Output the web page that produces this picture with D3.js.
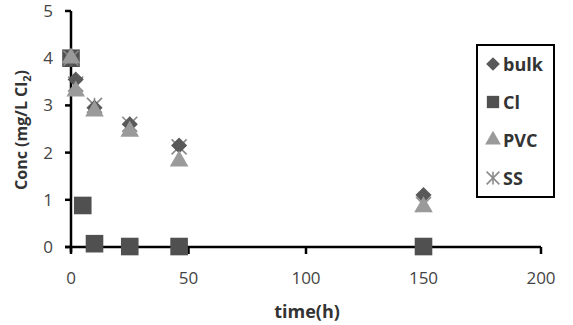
<!DOCTYPE html>
<html>
<head>
<meta charset="utf-8">
<script src="https://cdn.jsdelivr.net/npm/d3@7"></script>
<style>
  body { margin: 0; background: #fff; }
  text { font-family: "Open Sans", "Liberation Sans", sans-serif; }
</style>
</head>
<body>
<svg width="573" height="325"></svg>
<script>
var bulkTime = [0, 2, 10, 25, 46, 150],
    bulkConc = [4.0, 3.55, 2.95, 2.6, 2.15, 1.1],
    ciTime = [0, 5, 10, 25, 46, 150],
    ciConc = [4.0, 0.88, 0.07, 0.01, 0.01, 0.01],
    pvcTime = [0, 2, 10, 25, 46, 150],
    pvcConc = [4.0, 3.3, 2.88, 2.45, 1.82, 0.85],
    ssTime = [0, 2, 10, 25, 46, 150],
    ssConc = [4.0, 3.45, 3.0, 2.6, 2.12, 0.9],
    xTicks = [0, 50, 100, 150, 200],
    yTicks = [0, 1, 2, 3, 4, 5],
    seriesNames = ["bulk", "Cl", "PVC", "SS"];

var svg = d3.select("svg"),
    x = d3.scaleLinear().domain([0, 200]).range([71, 541]),
    y = d3.scaleLinear().domain([0, 5]).range([247, 11]);

var series = [
  {name: "bulk", t: bulkTime, c: bulkConc, sym: "diamond", size: 130, color: "#595959"},
  {name: "Cl", t: ciTime, c: ciConc, sym: d3.symbolSquare, size: 310, color: "#505050"},
  {name: "PVC", t: pvcTime, c: pvcConc, sym: d3.symbolTriangle, size: 150, color: "#9a9a9a"},
  {name: "SS", t: ssTime, c: ssConc, sym: "star", size: 7.5, color: "#8a8a8a"}
];

function drawMarker(g, s, cx, cy, scale) {
  scale = scale || 1;
  var tr = "translate(" + cx + "," + cy + ")";
  if (s.sym === "star") {
    var r = s.size * scale;
    var p = g.append("g").attr("transform", tr)
      .attr("stroke", s.color).attr("stroke-width", 1.6);
    p.append("line").attr("x1", -r).attr("y1", -r).attr("x2", r).attr("y2", r);
    p.append("line").attr("x1", -r).attr("y1", r).attr("x2", r).attr("y2", -r);
    p.append("line").attr("x1", 0).attr("y1", -r).attr("x2", 0).attr("y2", r);
  } else if (s.sym === "diamond") {
    g.append("path")
      .attr("transform", tr + " rotate(45)")
      .attr("d", d3.symbol().type(d3.symbolSquare).size(s.size * scale * scale)())
      .attr("fill", s.color);
  } else {
    g.append("path")
      .attr("transform", tr)
      .attr("d", d3.symbol().type(s.sym).size(s.size * scale * scale)())
      .attr("fill", s.color);
  }
}

// axes
var axisG = svg.append("g").attr("stroke", "#000").attr("stroke-width", 2.5);
axisG.append("line").attr("x1", x(0)).attr("x2", x(0)).attr("y1", y(5)).attr("y2", y(0) + 5);
axisG.append("line").attr("x1", x(0) - 6).attr("x2", x(200)).attr("y1", y(0)).attr("y2", y(0));
axisG.selectAll(".yt").data(yTicks).enter().append("line")
  .attr("x1", x(0) - 6).attr("x2", x(0)).attr("y1", d => y(d)).attr("y2", d => y(d));
axisG.selectAll(".xt").data(xTicks).enter().append("line")
  .attr("x1", d => x(d)).attr("x2", d => x(d)).attr("y1", y(0)).attr("y2", y(0) + 7);

svg.selectAll(".ylab").data(yTicks).enter().append("text")
  .attr("x", 53).attr("y", d => y(d) + 6)
  .attr("text-anchor", "end").attr("font-size", 17).attr("fill", "#444")
  .text(d => d);
svg.selectAll(".xlab").data(xTicks).enter().append("text")
  .attr("x", d => x(d)).attr("y", 284)
  .attr("text-anchor", "middle").attr("font-size", 17).attr("fill", "#444")
  .text(d => d);

svg.append("text").attr("x", 307).attr("y", 318).attr("text-anchor", "middle")
  .attr("font-size", 18).attr("font-weight", "bold").attr("fill", "#333").text("time(h)");

var yl = svg.append("text").attr("transform", "translate(27,130) rotate(-90)")
  .attr("text-anchor", "middle").attr("font-size", 16).attr("font-weight", "bold").attr("fill", "#333");
yl.append("tspan").text("Conc (mg/L Cl");
yl.append("tspan").attr("font-size", 11).attr("dy", 4).text("2");
yl.append("tspan").attr("dy", -4).text(")");

// points: CI underneath, then SS, bulk, PVC
var plot = svg.append("g");
[series[1], series[3], series[0], series[2]].forEach(function(s) {
  s.t.forEach(function(t, i) {
    drawMarker(plot, s, x(t), y(s.c[i]));
  });
});

// legend
var lg = svg.append("g");
lg.append("rect").attr("x", 477).attr("y", 45).attr("width", 77).attr("height", 152)
  .attr("fill", "#fff").attr("stroke", "#000").attr("stroke-width", 2);
series.forEach(function(s, i) {
  var ly = 64 + i * 38;
  drawMarker(lg, s, 493, ly, s.sym === d3.symbolSquare ? 0.7 : 0.85);
  lg.append("text").attr("x", 503).attr("y", ly + 7).attr("font-size", 18)
    .attr("font-weight", "bold").attr("fill", "#333").text(seriesNames[i]);
});
</script>
</body>
</html>
